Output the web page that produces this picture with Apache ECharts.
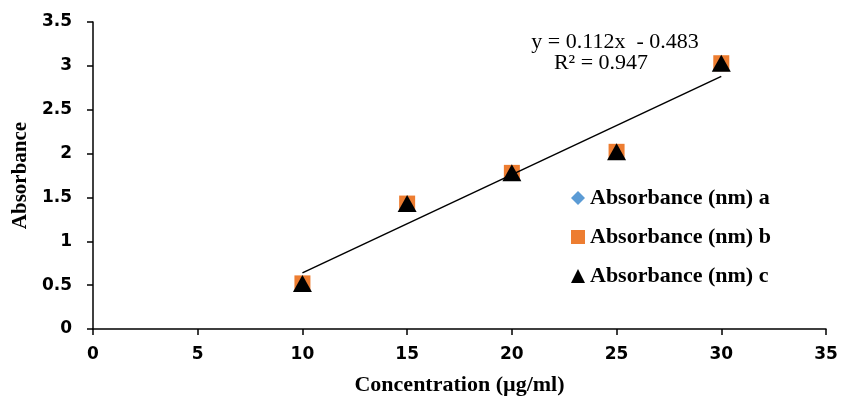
<!DOCTYPE html>
<html>
<head>
<meta charset="utf-8">
<script src="https://cdn.jsdelivr.net/npm/echarts@6/dist/echarts.min.js"></script>
<style>html,body{margin:0;padding:0;background:#fff;}#c{width:841px;height:401px;}</style>
</head>
<body>
<div id="c"></div>
<script>
var concentrations = [10, 15, 20, 25, 30];
var absorbanceA = [0.52, 1.43, 1.78, 2.02, 3.03];
var absorbanceB = [0.52, 1.43, 1.78, 2.02, 3.03];
var absorbanceC = [0.52, 1.43, 1.78, 2.02, 3.03];
var trendX = [10, 30];
var trendY = [0.64, 2.88];
var seriesNames = ['Absorbance (nm) a', 'Absorbance (nm) b', 'Absorbance (nm) c'];
var equationLines = ['y = 0.112x  - 0.483', 'R\u00b2 = 0.947'];

function pairs(xs, ys) { return xs.map(function (x, i) { return [x, ys[i]]; }); }

var serif = '"Liberation Serif", "Times New Roman", serif';
var chart = echarts.init(document.getElementById('c'));
chart.setOption({
  animation: false,
  backgroundColor: '#fff',
  grid: { left: 93, right: 15, top: 22, bottom: 66, containLabel: false },
  xAxis: {
    type: 'value', min: 0, max: 35, interval: 5,
    name: 'Concentration (\u00b5g/ml)', nameLocation: 'middle', nameGap: 45,
    nameTextStyle: { fontFamily: serif, fontWeight: 'bold', fontSize: 22, color: '#000' },
    axisLine: { show: true, lineStyle: { color: '#000', width: 1.5 } },
    axisTick: { show: true, inside: false, length: 6, lineStyle: { color: '#000', width: 1.5 } },
    axisLabel: { margin: 17, fontFamily: '"DejaVu Sans", Verdana, sans-serif', fontWeight: 'bold', fontSize: 17, color: '#000' },
    splitLine: { show: false }
  },
  yAxis: {
    type: 'value', min: 0, max: 3.5, interval: 0.5,
    name: 'Absorbance', nameLocation: 'middle', nameGap: 60,
    nameTextStyle: { fontFamily: serif, fontWeight: 'bold', fontSize: 21, color: '#000' },
    axisLine: { show: true, lineStyle: { color: '#000', width: 1.5 } },
    axisTick: { show: true, inside: false, length: 6, lineStyle: { color: '#000', width: 1.5 } },
    axisLabel: { margin: 21, fontFamily: '"DejaVu Sans", Verdana, sans-serif', fontWeight: 'bold', fontSize: 17, color: '#000' },
    splitLine: { show: false }
  },
  legend: {
    orient: 'vertical', left: 566, top: 182, itemGap: 17,
    itemWidth: 14, itemHeight: 14,
    textStyle: { fontFamily: serif, fontWeight: 'bold', fontSize: 22, color: '#000' },
    data: [
      { name: seriesNames[0], icon: 'diamond' },
      { name: seriesNames[1], icon: 'rect' },
      { name: seriesNames[2], icon: 'triangle' }
    ]
  },
  graphic: [
    { type: 'text', x: 615, y: 42, style: { text: equationLines[0], font: '22px ' + serif, fill: '#000', textAlign: 'center', textVerticalAlign: 'middle' } },
    { type: 'text', x: 601, y: 63, style: { text: equationLines[1], font: '22px ' + serif, fill: '#000', textAlign: 'center', textVerticalAlign: 'middle' } }
  ],
  series: [
    { name: seriesNames[0], type: 'scatter', symbol: 'diamond', symbolSize: 14,
      itemStyle: { color: '#5B9BD5', opacity: 1 }, data: pairs(concentrations, absorbanceA), z: 2 },
    { name: seriesNames[1], type: 'scatter', symbol: 'rect', symbolSize: 16,
      itemStyle: { color: '#ED7D31', opacity: 1 }, data: pairs(concentrations, absorbanceB), z: 3 },
    { name: 'trend', type: 'line', symbol: 'none', silent: true,
      lineStyle: { color: '#000', width: 1.5 }, data: pairs(trendX, trendY), z: 4 },
    { name: seriesNames[2], type: 'scatter', symbol: 'triangle', symbolSize: [19, 17],
      itemStyle: { color: '#000', opacity: 1 }, data: pairs(concentrations, absorbanceC), z: 5 }
  ]
});
</script>
</body>
</html>
